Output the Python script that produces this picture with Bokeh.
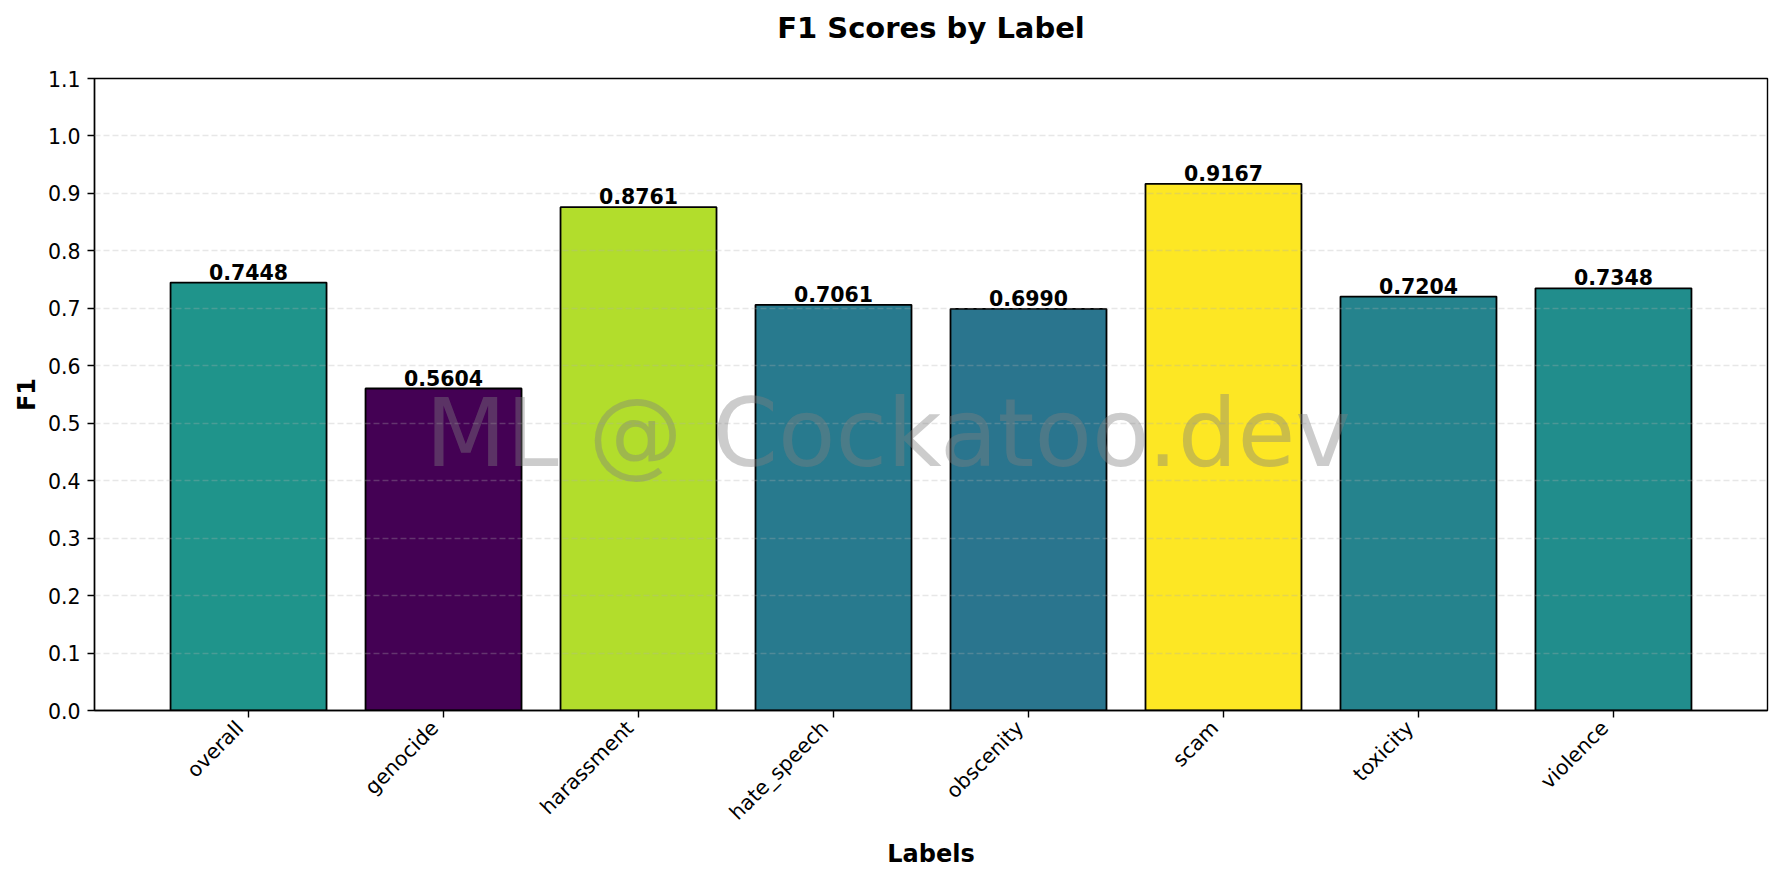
from math import pi

from bokeh.core.properties import value
from bokeh.embed import file_html
from bokeh.models import (ColumnDataSource, FixedTicker, Label, LinearAxis,
                          PrintfTickFormatter, Range1d, Title)
from bokeh.palettes import Viridis256
from bokeh.plotting import figure
from bokeh.resources import INLINE
from bokeh.transform import linear_cmap

# ---------------- data ----------------
labels = ["overall", "genocide", "harassment", "hate_speech",
          "obscenity", "scam", "toxicity", "violence"]
f1_scores = [0.7448, 0.5604, 0.8761, 0.7061, 0.6990, 0.9167, 0.7204, 0.7348]
y_ticks = [0.0, 0.1, 0.2, 0.3, 0.4, 0.5, 0.6, 0.7, 0.8, 0.9, 1.0, 1.1]
y_limits = [0.0, 1.1]
title_text = "F1 Scores by Label"
x_label = "Labels"
y_label = "F1"
watermark_text = "ML @ Cockatoo.dev"

# ---------------- style ----------------
FONT = "DejaVu Sans"
BAR_WIDTH = 0.8
X_MARGIN = 0.05         # matplotlib-like 5% margins around the bars
LABEL_SHIFT = 0.0446    # tick-label nudge (in category units) to mimic ha="right"

n = len(labels)
positions = list(range(n))
data_lo = positions[0] - BAR_WIDTH / 2
data_hi = positions[-1] + BAR_WIDTH / 2
pad = (data_hi - data_lo) * X_MARGIN
x_start, x_end = data_lo - pad, data_hi + pad

source = ColumnDataSource(dict(
    x=positions,
    label=labels,
    f1=f1_scores,
    txt=[f"{v:.4f}" for v in f1_scores],
))

p = figure(
    width=1782, height=881,
    x_range=Range1d(x_start, x_end),
    y_range=Range1d(y_limits[0], y_limits[1]),
    output_backend="svg", toolbar_location=None,
    min_border_left=94, min_border_right=15,
    min_border_top=78, min_border_bottom=171,
    background_fill_color="white", border_fill_color="white",
    x_axis_type=None,
)
# the tick-label axis runs on a slightly shifted copy of the x range
p.extra_x_ranges = {"ticklabels": Range1d(x_start + LABEL_SHIFT,
                                          x_end + LABEL_SHIFT)}

# blank spacer title between the frame and the real title
p.add_layout(Title(text=" ", text_font_size="1px", standoff=31), "above")

# title
p.title.text = title_text
p.title.align = "center"
p.title.vertical_align = "bottom"
p.title.text_font = FONT
p.title.text_font_size = "29px"
p.title.text_font_style = "bold"
p.title.text_color = "black"
p.title.standoff = 0

# bars
p.vbar(x="x", top="f1", bottom=0, width=BAR_WIDTH, source=source,
       fill_color=linear_cmap("f1", Viridis256, min(f1_scores), max(f1_scores)),
       line_color="black", line_width=1.8)

# value labels
vt = p.text(x="x", y="f1", text="txt", source=source,
            text_align="center", text_baseline="middle", y_offset=-11,
            text_font=value(FONT), text_font_size="20.5px",
            text_font_style="bold", text_color="black")
vt.level = "annotation"

# grid (drawn above the bars, like the reference)
p.ygrid.ticker = FixedTicker(ticks=y_ticks)
p.ygrid.grid_line_color = "#b0b0b0"
p.ygrid.grid_line_alpha = 0.3
p.ygrid.grid_line_width = 1.4
p.ygrid.grid_line_dash = "6 3"
p.ygrid.level = "guide"

# frame
p.outline_line_color = "black"
p.outline_line_width = 1.4
p.outline_line_alpha = 1.0

# x axis: rotated labels at the (shifted) major ticks, the visible tick
# marks are minor ticks placed back on the bar centres
xa = LinearAxis(
    x_range_name="ticklabels",
    ticker=FixedTicker(ticks=positions,
                       minor_ticks=[x + LABEL_SHIFT for x in positions]),
    major_label_overrides={i: name for i, name in zip(positions, labels)},
    major_label_orientation=pi / 4,
    major_label_standoff=7,
    major_label_text_font=FONT,
    major_label_text_font_size="20.5px",
    major_label_text_color="black",
    axis_line_color="black", axis_line_width=1.4,
    major_tick_line_color=None,
    major_tick_out=7, major_tick_in=0,
    minor_tick_line_color="black", minor_tick_line_width=1.4,
    minor_tick_out=7, minor_tick_in=0,
    axis_label=x_label,
    axis_label_standoff=4,
    axis_label_text_font=FONT,
    axis_label_text_font_size="24px",
    axis_label_text_font_style="bold",
    axis_label_text_color="black",
)
p.add_layout(xa, "below")

# y axis
ya = p.yaxis[0]
ya.ticker = FixedTicker(ticks=y_ticks)
ya.formatter = PrintfTickFormatter(format="%.1f")
ya.axis_line_color = "black"
ya.axis_line_width = 1.4
ya.major_tick_line_color = "black"
ya.major_tick_line_width = 1.4
ya.major_tick_out = 7
ya.major_tick_in = 0
ya.minor_tick_line_color = None
ya.major_label_text_font = FONT
ya.major_label_text_font_size = "20.5px"
ya.major_label_text_color = "black"
ya.major_label_standoff = 7
ya.axis_label = y_label
ya.axis_label_standoff = 4
ya.axis_label_text_font = FONT
ya.axis_label_text_font_size = "24px"
ya.axis_label_text_font_style = "bold"
ya.axis_label_text_color = "black"

# watermark (screen offsets measured from the frame's bottom-left corner)
wm = Label(x=793.5, y=277, x_units="screen", y_units="screen",
           text=watermark_text, text_font=FONT, text_font_size="94px",
           text_color="gray", text_alpha=0.4,
           text_align="center", text_baseline="middle")
wm.level = "overlay"
p.add_layout(wm)

open("out.html", "w").write(file_html(p, INLINE))
